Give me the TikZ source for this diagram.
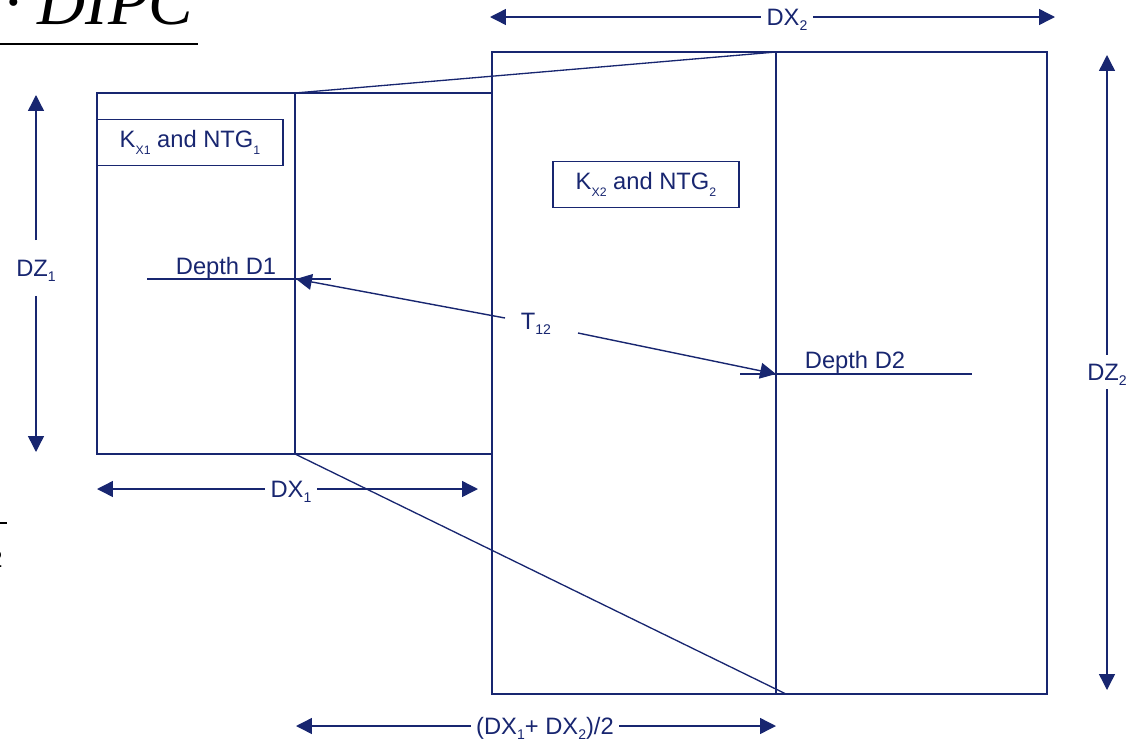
\documentclass[tikz,border=0pt]{standalone}
\usepackage{fontspec}
\setmainfont{Liberation Sans}
\newfontfamily\serifit{Liberation Serif}
\usetikzlibrary{arrows.meta}
\definecolor{navy}{RGB}{24,38,112}
\newcommand{\sub}[1]{\raisebox{-0.4ex}{\footnotesize #1}}
\newcommand{\ksub}[1]{\raisebox{-0.5ex}{\scriptsize #1}}
\begin{document}
\begin{tikzpicture}[x=0.02cm,y=-0.02cm,>={Triangle[length=9pt,width=9pt]},
    every node/.style={text=navy,font=\fontsize{13.5}{16}\selectfont},
    block/.style={draw=navy,line width=1.4pt},
    cut/.style={draw=navy,line width=0.75pt},
    dim/.style={navy,line width=0.8pt,->},
    dimlabel/.style={inner sep=3pt,text height=9.7pt,text depth=0pt},
    prop/.style={draw=navy,line width=0.8pt,minimum width=3.72cm,minimum height=0.92cm}]
  \useasboundingbox (0,0) rectangle (1144,741);
  \clip (0,0) rectangle (1144,741);
  % Reste der Formel (abgeschnitten)
  \node[anchor=base west,inner sep=0pt,text=black,font=\fontsize{38}{40}\selectfont\serifit\itshape] (formel) at (4,24) {· DIPC};
  \draw[black,line width=1.6pt] (0,44) -- (198,44);
  \draw[black,line width=1pt] (0,523) -- (7,523);
  \node[anchor=east,inner sep=0pt,text=black] (zwei) at (3,559) {2};

  % Zellen
  \draw[block] (97,93) rectangle (492,454);
  \draw[block] (492,52) rectangle (1047,694);
  \draw[cut] (295,93) -- (295,454);
  \draw[cut] (776,52) -- (776,694);
  \draw[cut] (295,93) -- (776,52);
  \draw[cut] (295,454) -- (786,694);

  \node[prop] (k1) at (190,142.5) {K\ksub{X1} and NTG\ksub{1}};
  \node[prop] (k2) at (646,184.5) {K\ksub{X2} and NTG\ksub{2}};

  % Tiefen
  \draw[cut] (147,279) -- (331,279);
  \node[anchor=base,inner sep=0pt] (d1) at (226,274) {Depth D1};
  \draw[cut] (740,374) -- (972,374);
  \node[anchor=base,inner sep=0pt] (d2) at (855,368) {Depth D2};

  % Transmissibilitaet
  \node (t12) at (536,324) {T\sub{12}};
  \coordinate (t1a) at (505,318);
  \coordinate (t1b) at (296,279);
  \coordinate (t2a) at (578,333);
  \coordinate (t2b) at (776,374);
  \draw[dim] (t1a) -- (t1b);
  \draw[dim] (t2a) -- (t2b);

  % Masse
  \node[dimlabel] (dx1) at (291,489) {DX\sub{1}};
  \coordinate (dx1l) at (97,489);
  \coordinate (dx1r) at (478,489);
  \draw[dim] (dx1) -- (dx1l);
  \draw[dim] (dx1) -- (dx1r);

  \node[dimlabel] (dx2) at (787,17) {DX\sub{2}};
  \coordinate (dx2l) at (490,17);
  \coordinate (dx2r) at (1055,17);
  \draw[dim] (dx2) -- (dx2l);
  \draw[dim] (dx2) -- (dx2r);

  \node[dimlabel] (dxm) at (545,726) {(DX\sub{1}+ DX\sub{2})/2};
  \coordinate (dxml) at (296,726);
  \coordinate (dxmr) at (776,726);
  \draw[dim] (dxm) -- (dxml);
  \draw[dim] (dxm) -- (dxmr);

  \node[dimlabel,outer ysep=8pt] (dz1) at (36,268) {DZ\sub{1}};
  \coordinate (dz1t) at (36,95);
  \coordinate (dz1b) at (36,452);
  \draw[dim] (dz1) -- (dz1t);
  \draw[dim] (dz1) -- (dz1b);

  \node[dimlabel,outer ysep=2pt] (dz2) at (1107,372) {DZ\sub{2}};
  \coordinate (dz2t) at (1107,55);
  \coordinate (dz2b) at (1107,690);
  \draw[dim] (dz2) -- (dz2t);
  \draw[dim] (dz2) -- (dz2b);
\end{tikzpicture}
\end{document}
